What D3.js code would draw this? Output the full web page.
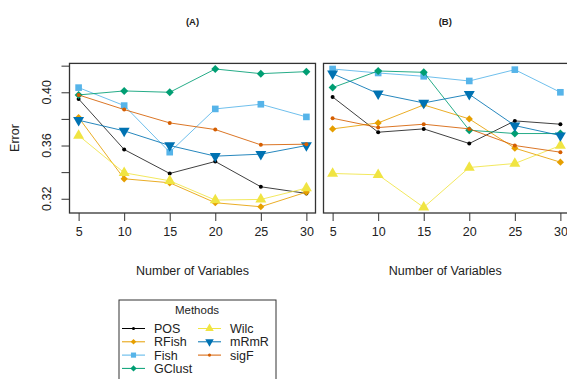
<!DOCTYPE html>
<html>
<head>
<meta charset="utf-8">
<script src="https://cdn.jsdelivr.net/npm/d3@7"></script>
<style>
body { margin: 0; background: #fff; }
text { font-family: "Liberation Sans", Arial, sans-serif; fill: #222; }
</style>
</head>
<body>
<script>
// data
var nVars = [5, 10, 15, 20, 25, 30];
var methods = ['POS', 'RFish', 'Fish', 'GClust', 'Wilc', 'mRmR', 'sigF'];
var colors = ['#000000', '#E69F00', '#56B4E9', '#009E73', '#F0E442', '#0072B2', '#D55E00'];
var shapes = ['dot', 'diamondS', 'square', 'diamond', 'triUp', 'triDown', 'dot'];
var yTicks = [0.32, 0.34, 0.36, 0.38, 0.40, 0.42];
var yLabels = [0.32, 0.36, 0.40];

// panel A
var errA_POS    = [0.395, 0.357, 0.339, 0.348, 0.329, 0.324];
var errA_RFish  = [0.381, 0.335, 0.332, 0.317, 0.314, 0.325];
var errA_Fish   = [0.4035, 0.390, 0.355, 0.3875, 0.391, 0.3815];
var errA_GClust = [0.398, 0.401, 0.400, 0.4175, 0.414, 0.4155];
var errA_Wilc   = [0.3675, 0.3395, 0.3335, 0.319, 0.3195, 0.328];
var errA_mRmR   = [0.379, 0.371, 0.360, 0.352, 0.3535, 0.360];
var errA_sigF   = [0.398, 0.387, 0.377, 0.372, 0.3605, 0.361];
// panel B
var errB_POS    = [0.3965, 0.370, 0.3725, 0.3615, 0.3785, 0.376];
var errB_RFish  = [0.3725, 0.377, 0.3905, 0.380, 0.358, 0.3475];
var errB_Fish   = [0.4175, 0.4145, 0.412, 0.4085, 0.417, 0.400];
var errB_GClust = [0.4035, 0.416, 0.415, 0.3715, 0.369, 0.369];
var errB_Wilc   = [0.339, 0.338, 0.3135, 0.3435, 0.3465, 0.360];
var errB_mRmR   = [0.414, 0.399, 0.392, 0.3985, 0.375, 0.3675];
var errB_sigF   = [0.3805, 0.3735, 0.376, 0.3725, 0.360, 0.355];

var panels = [
    {title: '(A)', left: 69.5, right: 315.5, yaxis: true,
     series: [errA_POS, errA_RFish, errA_Fish, errA_GClust, errA_Wilc, errA_mRmR, errA_sigF]},
    {title: '(B)', left: 323.5, right: 569.5, yaxis: false,
     series: [errB_POS, errB_RFish, errB_Fish, errB_GClust, errB_Wilc, errB_mRmR, errB_sigF]}
];

var svg = d3.select('body').append('svg')
    .attr('width', 567)
    .attr('height', 379);

var plotTop = 63.4, plotBottom = 213;
var y = d3.scaleLinear().domain([0.3093, 0.4217]).range([plotBottom, plotTop]);

function marker(g, shape, cx, cy, col, scale) {
    scale = scale || 1;
    if (shape == 'dot') {
        g.append('circle').attr('cx', cx).attr('cy', cy).attr('r', 2 * Math.sqrt(scale)).attr('fill', col);
    } else {
        // R style diamonds are squares turned 45 degrees
        var sym = {diamond: [d3.symbolSquare, 32, 45], diamondS: [d3.symbolSquare, 26, 45],
                   square: [d3.symbolSquare, 44, 0], triUp: [d3.symbolTriangle, 52, 0],
                   triDown: [d3.symbolTriangle, 52, 180]}[shape];
        g.append('path')
            .attr('d', d3.symbol().type(sym[0]).size(sym[1] * scale))
            .attr('transform', 'translate(' + cx + ',' + cy + ') rotate(' + sym[2] + ')')
            .attr('fill', col);
    }
}

panels.forEach(function(p) {
    var x = d3.scaleLinear().domain([4, 31]).range([p.left, p.right]);
    var mid = (p.left + Math.min(p.right, 567)) / 2;
    var g = svg.append('g');

    // x axis
    var xa = g.append('g')
        .attr('transform', 'translate(0,' + plotBottom + ')')
        .call(d3.axisBottom(x).tickValues(nVars).tickSize(8).tickPadding(6));
    xa.select('.domain').remove();
    xa.selectAll('line').attr('stroke', '#333');
    xa.selectAll('text').attr('font-size', 12.5).attr('fill', '#222')
        .attr('font-family', '"Liberation Sans", Arial, sans-serif');

    g.append('text').attr('x', mid).attr('y', 275)
        .attr('text-anchor', 'middle').attr('font-size', 12.5)
        .text('Number of Variables');

    g.append('text').attr('x', mid).attr('y', 25)
        .attr('text-anchor', 'middle').attr('font-size', 9.5).attr('font-weight', 'bold')
        .text(p.title);

    if (p.yaxis) {
        var ya = g.append('g')
            .attr('transform', 'translate(' + p.left + ',0)')
            .call(d3.axisLeft(y).tickValues(yTicks).tickSize(8).tickFormat(''));
        ya.select('.domain').remove();
        ya.selectAll('line').attr('stroke', '#333');
        g.selectAll('.ylab').data(yLabels).enter().append('text')
            .attr('class', 'ylab')
            .attr('transform', function(d) { return 'translate(51,' + y(d) + ') rotate(-90)'; })
            .attr('text-anchor', 'middle').attr('font-size', 12.5)
            .text(function(d) { return d.toFixed(2); });
        g.append('text')
            .attr('transform', 'translate(19,138) rotate(-90)')
            .attr('text-anchor', 'middle').attr('font-size', 12.5)
            .text('Error');
    }

    var line = d3.line().x(function(d, i) { return x(nVars[i]); }).y(function(d) { return y(d); });
    p.series.forEach(function(s, k) {
        g.append('path').datum(s)
            .attr('d', line)
            .attr('fill', 'none')
            .attr('stroke', colors[k])
            .attr('stroke-opacity', k == 0 ? 0.75 : 0.85)
            .attr('stroke-width', 1);
        s.forEach(function(v, i) { marker(g, shapes[k], x(nVars[i]), y(v), colors[k]); });
    });

    g.append('rect')
        .attr('x', p.left).attr('y', plotTop)
        .attr('width', p.right - p.left).attr('height', plotBottom - plotTop)
        .attr('fill', 'none').attr('stroke', '#333').attr('stroke-width', 1.3);
});

// legend
var leg = svg.append('g');
leg.append('rect').attr('x', 119).attr('y', 300).attr('width', 157).attr('height', 100)
    .attr('fill', 'none').attr('stroke', '#333').attr('stroke-width', 1);
leg.append('text').attr('x', 197).attr('y', 314).attr('text-anchor', 'middle')
    .attr('font-size', 11.5).text('Methods');
methods.forEach(function(m, k) {
    var col = k < 4 ? 0 : 1;
    var row = k < 4 ? k : k - 4;
    var lx = col == 0 ? 122 : 198;
    var ly = 328.5 + row * 13.3;
    leg.append('line').attr('x1', lx).attr('x2', lx + 23).attr('y1', ly).attr('y2', ly)
        .attr('stroke', colors[k]).attr('stroke-width', 1);
    marker(leg, shapes[k], lx + 11.5, ly, colors[k], 0.6);
    leg.append('text').attr('x', lx + 32).attr('y', ly + 4.5).attr('font-size', 12.5).text(m);
});
</script>
</body>
</html>
